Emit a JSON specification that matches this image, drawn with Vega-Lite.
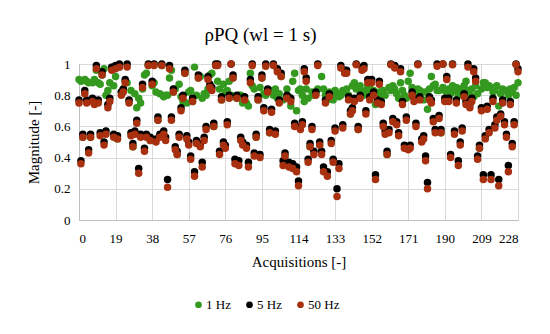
{
  "$schema": "https://vega.github.io/schema/vega-lite/v6.json",
  "width": 439,
  "height": 156,
  "autosize": {"type": "none"},
  "padding": {"left": 79, "top": 64, "right": 32, "bottom": 114},
  "background": "white",
  "title": {"text": "ρPQ (wl = 1 s)", "font": "Liberation Serif", "fontSize": 19, "fontWeight": "normal", "color": "#000000", "dx": -38, "offset": 13},
  "data": {"values": [
{"a":0,"1 Hz":0.9,"5 Hz":0.77,"50 Hz":0.75},
{"a":1,"1 Hz":0.89,"5 Hz":0.38,"50 Hz":0.36},
{"a":2,"1 Hz":0.53,"5 Hz":0.55,"50 Hz":0.53},
{"a":3,"1 Hz":0.9,"5 Hz":0.83,"50 Hz":0.81},
{"a":4,"1 Hz":0.89,"5 Hz":0.77,"50 Hz":0.75},
{"a":5,"1 Hz":0.88,"5 Hz":0.45,"50 Hz":0.43},
{"a":6,"1 Hz":0.53,"5 Hz":0.55,"50 Hz":0.53},
{"a":7,"1 Hz":0.88,"5 Hz":0.78,"50 Hz":0.76},
{"a":8,"1 Hz":0.9,"5 Hz":0.76,"50 Hz":0.74},
{"a":9,"1 Hz":0.96,"5 Hz":0.99,"50 Hz":0.97},
{"a":10,"1 Hz":0.88,"5 Hz":0.77,"50 Hz":0.75},
{"a":11,"1 Hz":0.87,"5 Hz":0.56,"50 Hz":0.54},
{"a":12,"1 Hz":0.93,"5 Hz":0.95,"50 Hz":0.93},
{"a":13,"1 Hz":0.97,"5 Hz":0.5,"50 Hz":0.48},
{"a":14,"1 Hz":0.8,"5 Hz":0.57,"50 Hz":0.55},
{"a":15,"1 Hz":0.83,"5 Hz":0.74,"50 Hz":0.72},
{"a":16,"1 Hz":0.88,"5 Hz":0.78,"50 Hz":0.76},
{"a":17,"1 Hz":0.98,"5 Hz":0.98,"50 Hz":0.96},
{"a":18,"1 Hz":0.86,"5 Hz":0.55,"50 Hz":0.53},
{"a":19,"1 Hz":0.92,"5 Hz":0.99,"50 Hz":0.97},
{"a":20,"1 Hz":0.52,"5 Hz":0.54,"50 Hz":0.52},
{"a":21,"1 Hz":0.98,"5 Hz":1.0,"50 Hz":0.98},
{"a":22,"1 Hz":0.82,"5 Hz":0.82,"50 Hz":0.8},
{"a":23,"1 Hz":0.84,"5 Hz":0.84,"50 Hz":0.82},
{"a":24,"1 Hz":0.89,"5 Hz":0.9,"50 Hz":0.88},
{"a":25,"1 Hz":0.88,"5 Hz":1.0,"50 Hz":0.98},
{"a":26,"1 Hz":0.76,"5 Hz":0.77,"50 Hz":0.75},
{"a":27,"1 Hz":0.83,"5 Hz":0.56,"50 Hz":0.54},
{"a":28,"1 Hz":0.47,"5 Hz":0.49,"50 Hz":0.47},
{"a":29,"1 Hz":0.81,"5 Hz":0.57,"50 Hz":0.55},
{"a":30,"1 Hz":0.72,"5 Hz":0.64,"50 Hz":0.62},
{"a":31,"1 Hz":0.78,"5 Hz":0.33,"50 Hz":0.3},
{"a":32,"1 Hz":0.75,"5 Hz":0.55,"50 Hz":0.53},
{"a":33,"1 Hz":0.84,"5 Hz":0.87,"50 Hz":0.85},
{"a":34,"1 Hz":0.93,"5 Hz":0.46,"50 Hz":0.44},
{"a":35,"1 Hz":0.94,"5 Hz":0.55,"50 Hz":0.53},
{"a":36,"1 Hz":0.99,"5 Hz":1.0,"50 Hz":0.99},
{"a":37,"1 Hz":0.51,"5 Hz":0.53,"50 Hz":0.51},
{"a":38,"1 Hz":0.86,"5 Hz":0.89,"50 Hz":0.87},
{"a":39,"1 Hz":0.88,"5 Hz":1.0,"50 Hz":0.99},
{"a":40,"1 Hz":0.82,"5 Hz":0.52,"50 Hz":0.5},
{"a":41,"1 Hz":0.64,"5 Hz":0.66,"50 Hz":0.64},
{"a":42,"1 Hz":0.81,"5 Hz":0.55,"50 Hz":0.53},
{"a":43,"1 Hz":0.99,"5 Hz":1.0,"50 Hz":0.99},
{"a":44,"1 Hz":0.79,"5 Hz":0.57,"50 Hz":0.55},
{"a":45,"1 Hz":0.8,"5 Hz":0.53,"50 Hz":0.51},
{"a":46,"1 Hz":0.8,"5 Hz":0.26,"50 Hz":0.21},
{"a":47,"1 Hz":0.91,"5 Hz":0.99,"50 Hz":0.97},
{"a":48,"1 Hz":0.96,"5 Hz":0.66,"50 Hz":0.64},
{"a":49,"1 Hz":0.82,"5 Hz":0.84,"50 Hz":0.82},
{"a":50,"1 Hz":0.84,"5 Hz":0.47,"50 Hz":0.45},
{"a":51,"1 Hz":0.42,"5 Hz":0.44,"50 Hz":0.42},
{"a":52,"1 Hz":0.87,"5 Hz":0.55,"50 Hz":0.53},
{"a":53,"1 Hz":0.79,"5 Hz":0.72,"50 Hz":0.7},
{"a":54,"1 Hz":0.76,"5 Hz":0.8,"50 Hz":0.78},
{"a":55,"1 Hz":0.94,"5 Hz":0.96,"50 Hz":0.94},
{"a":56,"1 Hz":0.75,"5 Hz":0.54,"50 Hz":0.52},
{"a":57,"1 Hz":0.82,"5 Hz":0.5,"50 Hz":0.48},
{"a":58,"1 Hz":0.83,"5 Hz":0.41,"50 Hz":0.39},
{"a":59,"1 Hz":0.76,"5 Hz":0.78,"50 Hz":0.76},
{"a":60,"1 Hz":0.98,"5 Hz":0.31,"50 Hz":0.28},
{"a":61,"1 Hz":0.8,"5 Hz":0.51,"50 Hz":0.49},
{"a":62,"1 Hz":0.91,"5 Hz":0.93,"50 Hz":0.91},
{"a":63,"1 Hz":0.92,"5 Hz":0.49,"50 Hz":0.47},
{"a":64,"1 Hz":0.78,"5 Hz":0.37,"50 Hz":0.34},
{"a":65,"1 Hz":0.81,"5 Hz":0.53,"50 Hz":0.51},
{"a":66,"1 Hz":0.8,"5 Hz":0.6,"50 Hz":0.58},
{"a":67,"1 Hz":0.84,"5 Hz":0.92,"50 Hz":0.9},
{"a":68,"1 Hz":0.93,"5 Hz":0.87,"50 Hz":0.85},
{"a":69,"1 Hz":0.94,"5 Hz":0.85,"50 Hz":0.83},
{"a":70,"1 Hz":0.6,"5 Hz":0.62,"50 Hz":0.6},
{"a":71,"1 Hz":0.99,"5 Hz":1.0,"50 Hz":0.99},
{"a":72,"1 Hz":0.89,"5 Hz":1.0,"50 Hz":0.99},
{"a":73,"1 Hz":0.84,"5 Hz":0.44,"50 Hz":0.42},
{"a":74,"1 Hz":0.77,"5 Hz":0.79,"50 Hz":0.77},
{"a":75,"1 Hz":0.87,"5 Hz":0.5,"50 Hz":0.48},
{"a":76,"1 Hz":0.82,"5 Hz":0.48,"50 Hz":0.46},
{"a":77,"1 Hz":0.83,"5 Hz":0.63,"50 Hz":0.61},
{"a":78,"1 Hz":0.89,"5 Hz":0.8,"50 Hz":0.78},
{"a":79,"1 Hz":0.8,"5 Hz":1.0,"50 Hz":1.0},
{"a":80,"1 Hz":0.91,"5 Hz":0.93,"50 Hz":0.91},
{"a":81,"1 Hz":0.79,"5 Hz":0.39,"50 Hz":0.36},
{"a":82,"1 Hz":0.78,"5 Hz":0.8,"50 Hz":0.78},
{"a":83,"1 Hz":0.8,"5 Hz":0.38,"50 Hz":0.35},
{"a":84,"1 Hz":0.8,"5 Hz":0.53,"50 Hz":0.51},
{"a":85,"1 Hz":0.75,"5 Hz":0.5,"50 Hz":0.48},
{"a":86,"1 Hz":0.77,"5 Hz":0.79,"50 Hz":0.77},
{"a":87,"1 Hz":0.75,"5 Hz":0.48,"50 Hz":0.46},
{"a":88,"1 Hz":0.73,"5 Hz":0.37,"50 Hz":0.34},
{"a":89,"1 Hz":0.94,"5 Hz":0.9,"50 Hz":0.88},
{"a":90,"1 Hz":0.86,"5 Hz":1.0,"50 Hz":0.99},
{"a":91,"1 Hz":0.84,"5 Hz":0.43,"50 Hz":0.41},
{"a":92,"1 Hz":0.53,"5 Hz":0.55,"50 Hz":0.53},
{"a":93,"1 Hz":0.77,"5 Hz":0.79,"50 Hz":0.77},
{"a":94,"1 Hz":0.85,"5 Hz":0.42,"50 Hz":0.4},
{"a":95,"1 Hz":0.91,"5 Hz":0.93,"50 Hz":0.91},
{"a":96,"1 Hz":0.81,"5 Hz":0.72,"50 Hz":0.7},
{"a":97,"1 Hz":0.8,"5 Hz":1.0,"50 Hz":0.985},
{"a":98,"1 Hz":0.82,"5 Hz":0.84,"50 Hz":0.82},
{"a":99,"1 Hz":0.56,"5 Hz":0.58,"50 Hz":0.56},
{"a":100,"1 Hz":0.83,"5 Hz":0.71,"50 Hz":0.69},
{"a":101,"1 Hz":0.8,"5 Hz":1.0,"50 Hz":0.99},
{"a":102,"1 Hz":0.84,"5 Hz":0.57,"50 Hz":0.55},
{"a":103,"1 Hz":0.78,"5 Hz":0.97,"50 Hz":0.95},
{"a":104,"1 Hz":0.81,"5 Hz":0.77,"50 Hz":0.75},
{"a":105,"1 Hz":0.92,"5 Hz":0.94,"50 Hz":0.92},
{"a":106,"1 Hz":0.77,"5 Hz":0.38,"50 Hz":0.35},
{"a":107,"1 Hz":0.41,"5 Hz":0.43,"50 Hz":0.41},
{"a":108,"1 Hz":0.84,"5 Hz":0.8,"50 Hz":0.78},
{"a":109,"1 Hz":0.79,"5 Hz":0.37,"50 Hz":0.34},
{"a":110,"1 Hz":0.73,"5 Hz":0.78,"50 Hz":0.76},
{"a":111,"1 Hz":0.89,"5 Hz":0.36,"50 Hz":0.33},
{"a":112,"1 Hz":0.94,"5 Hz":0.62,"50 Hz":0.6},
{"a":113,"1 Hz":0.7,"5 Hz":0.34,"50 Hz":0.31},
{"a":114,"1 Hz":0.83,"5 Hz":0.25,"50 Hz":0.22},
{"a":115,"1 Hz":0.84,"5 Hz":0.6,"50 Hz":0.58},
{"a":116,"1 Hz":0.8,"5 Hz":0.63,"50 Hz":0.61},
{"a":117,"1 Hz":0.76,"5 Hz":0.97,"50 Hz":0.95},
{"a":118,"1 Hz":0.84,"5 Hz":0.91,"50 Hz":0.89},
{"a":119,"1 Hz":0.78,"5 Hz":0.39,"50 Hz":0.37},
{"a":120,"1 Hz":0.47,"5 Hz":0.49,"50 Hz":0.47},
{"a":121,"1 Hz":0.82,"5 Hz":0.6,"50 Hz":0.58},
{"a":122,"1 Hz":0.8,"5 Hz":0.44,"50 Hz":0.42},
{"a":123,"1 Hz":0.81,"5 Hz":0.82,"50 Hz":0.8},
{"a":124,"1 Hz":0.84,"5 Hz":1.0,"50 Hz":0.99},
{"a":125,"1 Hz":0.48,"5 Hz":0.5,"50 Hz":0.48},
{"a":126,"1 Hz":0.92,"5 Hz":0.44,"50 Hz":0.42},
{"a":127,"1 Hz":0.84,"5 Hz":0.34,"50 Hz":0.31},
{"a":128,"1 Hz":0.8,"5 Hz":0.77,"50 Hz":0.75},
{"a":129,"1 Hz":0.77,"5 Hz":0.31,"50 Hz":0.28},
{"a":130,"1 Hz":0.82,"5 Hz":0.81,"50 Hz":0.79},
{"a":131,"1 Hz":0.79,"5 Hz":0.51,"50 Hz":0.49},
{"a":132,"1 Hz":0.77,"5 Hz":0.39,"50 Hz":0.37},
{"a":133,"1 Hz":0.83,"5 Hz":0.59,"50 Hz":0.57},
{"a":134,"1 Hz":0.81,"5 Hz":0.2,"50 Hz":0.15},
{"a":135,"1 Hz":0.79,"5 Hz":0.36,"50 Hz":0.33},
{"a":136,"1 Hz":0.8,"5 Hz":0.99,"50 Hz":0.975},
{"a":137,"1 Hz":0.83,"5 Hz":0.61,"50 Hz":0.59},
{"a":138,"1 Hz":0.82,"5 Hz":0.96,"50 Hz":0.94},
{"a":139,"1 Hz":0.84,"5 Hz":0.96,"50 Hz":0.94},
{"a":140,"1 Hz":0.8,"5 Hz":0.79,"50 Hz":0.77},
{"a":141,"1 Hz":0.68,"5 Hz":0.7,"50 Hz":0.68},
{"a":142,"1 Hz":0.86,"5 Hz":0.72,"50 Hz":0.7},
{"a":143,"1 Hz":0.88,"5 Hz":0.78,"50 Hz":0.76},
{"a":144,"1 Hz":0.84,"5 Hz":1.0,"50 Hz":0.995},
{"a":145,"1 Hz":0.58,"5 Hz":0.6,"50 Hz":0.58},
{"a":146,"1 Hz":0.86,"5 Hz":0.8,"50 Hz":0.78},
{"a":147,"1 Hz":0.82,"5 Hz":0.98,"50 Hz":0.96},
{"a":148,"1 Hz":0.8,"5 Hz":0.99,"50 Hz":0.97},
{"a":149,"1 Hz":0.83,"5 Hz":0.7,"50 Hz":0.68},
{"a":150,"1 Hz":0.86,"5 Hz":0.9,"50 Hz":0.88},
{"a":151,"1 Hz":0.85,"5 Hz":0.79,"50 Hz":0.77},
{"a":152,"1 Hz":0.81,"5 Hz":0.9,"50 Hz":0.88},
{"a":153,"1 Hz":0.83,"5 Hz":0.82,"50 Hz":0.8},
{"a":154,"1 Hz":0.74,"5 Hz":0.29,"50 Hz":0.26},
{"a":155,"1 Hz":0.79,"5 Hz":0.77,"50 Hz":0.75},
{"a":156,"1 Hz":0.82,"5 Hz":0.89,"50 Hz":0.87},
{"a":157,"1 Hz":0.8,"5 Hz":0.76,"50 Hz":0.74},
{"a":158,"1 Hz":0.83,"5 Hz":0.62,"50 Hz":0.6},
{"a":159,"1 Hz":0.8,"5 Hz":0.57,"50 Hz":0.55},
{"a":160,"1 Hz":0.42,"5 Hz":0.44,"50 Hz":0.42},
{"a":161,"1 Hz":0.85,"5 Hz":0.58,"50 Hz":0.56},
{"a":162,"1 Hz":0.83,"5 Hz":1.0,"50 Hz":0.995},
{"a":163,"1 Hz":0.86,"5 Hz":0.65,"50 Hz":0.63},
{"a":164,"1 Hz":0.84,"5 Hz":0.99,"50 Hz":0.975},
{"a":165,"1 Hz":0.81,"5 Hz":0.63,"50 Hz":0.61},
{"a":166,"1 Hz":0.78,"5 Hz":0.56,"50 Hz":0.54},
{"a":167,"1 Hz":0.88,"5 Hz":0.97,"50 Hz":0.95},
{"a":168,"1 Hz":0.83,"5 Hz":0.76,"50 Hz":0.74},
{"a":169,"1 Hz":0.8,"5 Hz":0.48,"50 Hz":0.46},
{"a":170,"1 Hz":0.78,"5 Hz":0.66,"50 Hz":0.64},
{"a":171,"1 Hz":0.89,"5 Hz":0.47,"50 Hz":0.45},
{"a":172,"1 Hz":0.94,"5 Hz":0.48,"50 Hz":0.46},
{"a":173,"1 Hz":0.85,"5 Hz":0.82,"50 Hz":0.8},
{"a":174,"1 Hz":0.82,"5 Hz":0.78,"50 Hz":0.76},
{"a":175,"1 Hz":0.83,"5 Hz":0.62,"50 Hz":0.6},
{"a":176,"1 Hz":0.84,"5 Hz":1.0,"50 Hz":0.995},
{"a":177,"1 Hz":0.83,"5 Hz":0.79,"50 Hz":0.77},
{"a":178,"1 Hz":0.82,"5 Hz":0.52,"50 Hz":0.5},
{"a":179,"1 Hz":0.77,"5 Hz":0.54,"50 Hz":0.52},
{"a":180,"1 Hz":0.82,"5 Hz":0.41,"50 Hz":0.38},
{"a":181,"1 Hz":0.71,"5 Hz":0.24,"50 Hz":0.2},
{"a":182,"1 Hz":0.84,"5 Hz":0.79,"50 Hz":0.77},
{"a":183,"1 Hz":0.92,"5 Hz":0.77,"50 Hz":0.75},
{"a":184,"1 Hz":0.86,"5 Hz":0.65,"50 Hz":0.63},
{"a":185,"1 Hz":0.87,"5 Hz":0.58,"50 Hz":0.56},
{"a":186,"1 Hz":0.83,"5 Hz":1.0,"50 Hz":0.985},
{"a":187,"1 Hz":0.83,"5 Hz":0.67,"50 Hz":0.65},
{"a":188,"1 Hz":0.56,"5 Hz":0.58,"50 Hz":0.56},
{"a":189,"1 Hz":0.85,"5 Hz":1.0,"50 Hz":1.0},
{"a":190,"1 Hz":0.83,"5 Hz":0.78,"50 Hz":0.76},
{"a":191,"1 Hz":0.82,"5 Hz":0.92,"50 Hz":0.9},
{"a":192,"1 Hz":0.84,"5 Hz":0.78,"50 Hz":0.76},
{"a":193,"1 Hz":0.81,"5 Hz":0.42,"50 Hz":0.4},
{"a":194,"1 Hz":0.86,"5 Hz":1.0,"50 Hz":0.995},
{"a":195,"1 Hz":0.83,"5 Hz":0.57,"50 Hz":0.55},
{"a":196,"1 Hz":0.85,"5 Hz":0.77,"50 Hz":0.75},
{"a":197,"1 Hz":0.8,"5 Hz":0.38,"50 Hz":0.35},
{"a":198,"1 Hz":0.84,"5 Hz":0.5,"50 Hz":0.48},
{"a":199,"1 Hz":0.82,"5 Hz":0.59,"50 Hz":0.57},
{"a":200,"1 Hz":0.86,"5 Hz":0.81,"50 Hz":0.79},
{"a":201,"1 Hz":0.89,"5 Hz":0.76,"50 Hz":0.74},
{"a":202,"1 Hz":0.83,"5 Hz":1.0,"50 Hz":0.98},
{"a":203,"1 Hz":0.8,"5 Hz":0.74,"50 Hz":0.72},
{"a":204,"1 Hz":0.84,"5 Hz":0.78,"50 Hz":0.76},
{"a":205,"1 Hz":0.79,"5 Hz":0.97,"50 Hz":0.95},
{"a":206,"1 Hz":0.86,"5 Hz":0.91,"50 Hz":0.89},
{"a":207,"1 Hz":0.81,"5 Hz":0.41,"50 Hz":0.39},
{"a":208,"1 Hz":0.46,"5 Hz":0.48,"50 Hz":0.46},
{"a":209,"1 Hz":0.84,"5 Hz":0.72,"50 Hz":0.7},
{"a":210,"1 Hz":0.88,"5 Hz":0.29,"50 Hz":0.26},
{"a":211,"1 Hz":0.88,"5 Hz":0.54,"50 Hz":0.52},
{"a":212,"1 Hz":0.85,"5 Hz":0.73,"50 Hz":0.71},
{"a":213,"1 Hz":0.86,"5 Hz":0.58,"50 Hz":0.56},
{"a":214,"1 Hz":0.85,"5 Hz":0.29,"50 Hz":0.26},
{"a":215,"1 Hz":0.82,"5 Hz":0.78,"50 Hz":0.76},
{"a":216,"1 Hz":0.83,"5 Hz":0.61,"50 Hz":0.59},
{"a":217,"1 Hz":0.86,"5 Hz":0.66,"50 Hz":0.64},
{"a":218,"1 Hz":0.73,"5 Hz":0.26,"50 Hz":0.22},
{"a":219,"1 Hz":0.81,"5 Hz":0.68,"50 Hz":0.665},
{"a":220,"1 Hz":0.84,"5 Hz":0.77,"50 Hz":0.75},
{"a":221,"1 Hz":0.83,"5 Hz":0.63,"50 Hz":0.61},
{"a":222,"1 Hz":0.83,"5 Hz":0.55,"50 Hz":0.53},
{"a":223,"1 Hz":0.8,"5 Hz":0.35,"50 Hz":0.31},
{"a":224,"1 Hz":0.84,"5 Hz":0.76,"50 Hz":0.74},
{"a":225,"1 Hz":0.82,"5 Hz":0.49,"50 Hz":0.47},
{"a":226,"1 Hz":0.85,"5 Hz":0.63,"50 Hz":0.61},
{"a":227,"1 Hz":0.8,"5 Hz":1.0,"50 Hz":0.997},
{"a":228,"1 Hz":0.88,"5 Hz":0.97,"50 Hz":0.95}
  ]},
  "transform": [{"fold": ["1 Hz", "5 Hz", "50 Hz"], "as": ["series", "value"]}],
  "mark": {"type": "circle", "size": 56, "opacity": 1},
  "encoding": {
    "x": {
      "field": "a", "type": "quantitative",
      "scale": {"domain": [0, 228], "nice": false, "zero": false},
      "axis": {"values": [0, 19, 38, 57, 76, 95, 114, 133, 152, 171, 190, 209, 228], "title": "Acquisitions [-]", "labelPadding": 12, "titlePadding": 9}
    },
    "y": {
      "field": "value", "type": "quantitative",
      "scale": {"domain": [0, 1], "nice": false},
      "axis": {"values": [0, 0.2, 0.4, 0.6, 0.8, 1], "format": "~g", "title": "Magnitude [-]", "labelPadding": 9, "titlePadding": 12}
    },
    "color": {
      "field": "series", "type": "nominal",
      "scale": {"domain": ["1 Hz", "5 Hz", "50 Hz"], "range": ["#33991f", "#000000", "#a8300f"]},
      "legend": {"orient": "none", "legendX": 113, "legendY": 234, "direction": "horizontal", "title": null, "symbolType": "circle", "symbolSize": 45, "labelFont": "Liberation Serif", "labelFontSize": 13, "labelColor": "#000000", "labelOffset": 1, "columnPadding": 12}
    },
    "order": {"field": "series", "type": "ordinal"}
  },
  "config": {
    "view": {"stroke": "#d9d9d9"},
    "axis": {
      "labelFont": "Liberation Serif", "labelFontSize": 13, "labelColor": "#000000",
      "titleFont": "Liberation Serif", "titleFontSize": 15, "titleFontWeight": "normal", "titleColor": "#000000",
      "grid": true, "gridColor": "#d9d9d9", "domainColor": "#bfbfbf", "ticks": false
    }
  }
}
